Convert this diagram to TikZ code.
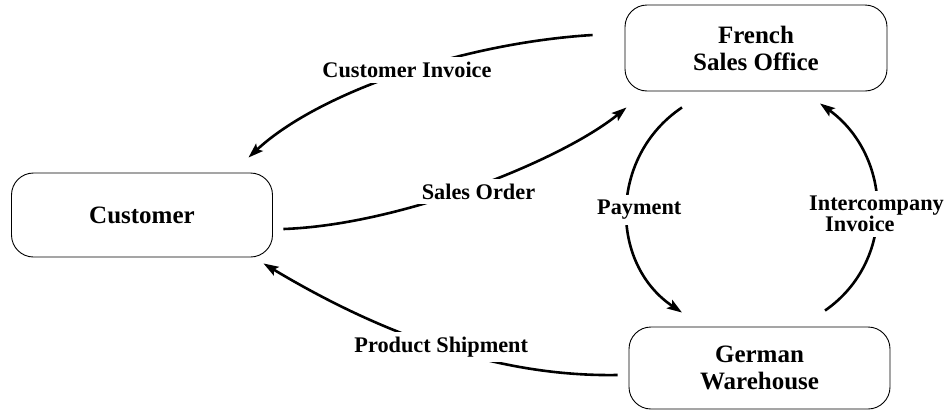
\documentclass[tikz,border=0pt]{standalone}
\usepackage{fontspec}
\setmainfont{Liberation Serif}
\usetikzlibrary{arrows.meta}
\begin{document}
\begin{tikzpicture}[x=1pt,y=-1pt,
party/.style={draw,line width=0.9pt,rounded corners=22pt,minimum width=261pt,minimum height=84pt,align=center,font=\bfseries\fontsize{25}{27}\selectfont},
flow/.style={line width=2.6pt,-{Stealth[length=15pt,width=10pt,inset=3pt]}},
lbl/.style={fill=white,inner sep=5pt,align=center,font=\bfseries\fontsize{22.3}{17}\selectfont}]
\useasboundingbox (0,0) rectangle (948,410);
\node[party] (customer) at (142,215) {Customer};
\node[party,minimum width=262pt,minimum height=86pt] (french) at (756,48) {French\\Sales Office};
\node[party,minimum height=82pt] (german) at (759.5,368) {German\\Warehouse};
\draw[flow] ([shift={(-32,-13)}]french.west) .. controls +(-130,8) and +(70,-65) .. ([shift={(-24.5,-15)}]customer.north east) node[lbl,pos=.5,xshift=9pt,yshift=5pt]{Customer Invoice};
\draw[flow] ([shift={(10.5,14)}]customer.east) .. controls +(117,-4) and +(-65,53) .. ([shift={(2,16)}]french.south west) node[lbl,pos=.5,xshift=4pt,yshift=-5pt]{Sales Order};
\draw[flow] ([shift={(-74,16)}]french.south) .. controls +(-73,49) and +(-73,-49) .. ([shift={(-77.5,-14)}]german.north) node[lbl,pos=.5,xshift=12pt]{Payment};
\draw[flow] ([shift={(65.5,-16)}]german.north) .. controls +(72,-50) and +(72,52) .. ([shift={(64,12)}]french.south) node[lbl,pos=.5,align=left,yshift=-6pt]{Intercompany\\\hspace*{16pt}Invoice};
\draw[flow] ([shift={(-11,7)}]german.west) .. controls +(-118,2) and +(120,72) .. ([shift={(-9.5,6)}]customer.south east) node[lbl,pos=.5]{Product Shipment};
\end{tikzpicture}
\end{document}
